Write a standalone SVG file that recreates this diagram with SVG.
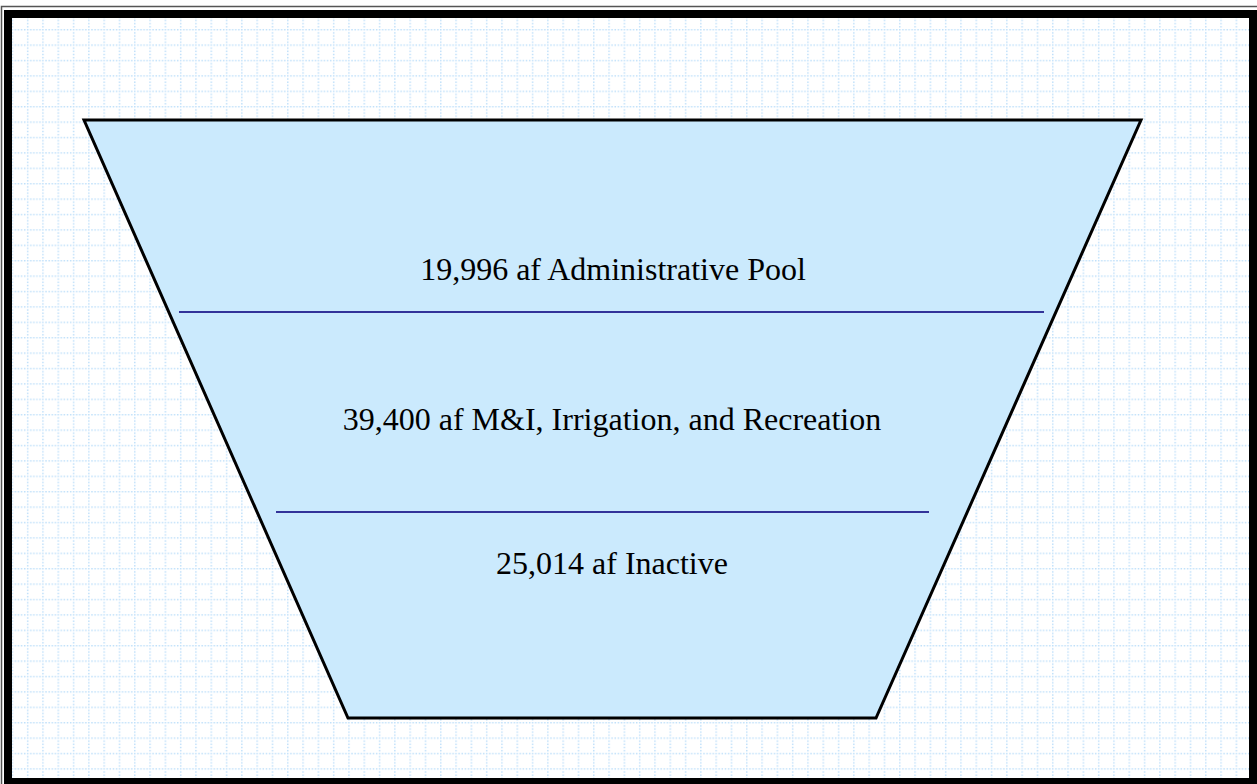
<svg xmlns="http://www.w3.org/2000/svg" width="1257" height="784" viewBox="0 0 1257 784">
  <style>
    .lbl { font-family: "Liberation Serif", "Times New Roman", serif; font-size: 32px; fill: #000; text-anchor: middle; }
    .div { stroke: #333399; stroke-width: 2; fill: none; }
    .grid { stroke: #bfe0fa; stroke-width: 1.5; stroke-dasharray: 1.5 1.6; fill: none; }
  </style>
  <defs>
    <pattern id="gridPat" patternUnits="userSpaceOnUse" x="11.6" y="13.6" width="15.3" height="15.4">
      <path class="grid" d="M0.75 0 V15.4 M0 0.75 H15.3"/>
    </pattern>
  </defs>
  <rect x="0" y="0" width="1257" height="784" fill="#ffffff"/>
  <rect x="12" y="18" width="1237" height="760" fill="url(#gridPat)"/>
  <rect x="1.5" y="6.5" width="1260" height="785" fill="none" stroke="#555" stroke-width="1.5"/>
  <rect x="8" y="14" width="1245" height="768" fill="none" stroke="#000" stroke-width="8"/>

  <g id="reservoir">
    <polygon points="84,120 1141,120 876,718 348,718" fill="#cbeafd" stroke="#000" stroke-width="3" stroke-linejoin="miter"/>
  </g>
  <g id="connectors">
    <line class="div" x1="179" y1="312" x2="1044" y2="312"/>
    <line class="div" x1="276" y1="512" x2="929" y2="512"/>
  </g>
  <g id="pool-admin">
    <text class="lbl" x="613" y="280">19,996 af Administrative Pool</text>
  </g>
  <g id="pool-mi">
    <text class="lbl" x="612" y="430">39,400 af M&amp;I, Irrigation, and Recreation</text>
  </g>
  <g id="pool-inactive">
    <text class="lbl" x="612" y="574">25,014 af Inactive</text>
  </g>
</svg>
